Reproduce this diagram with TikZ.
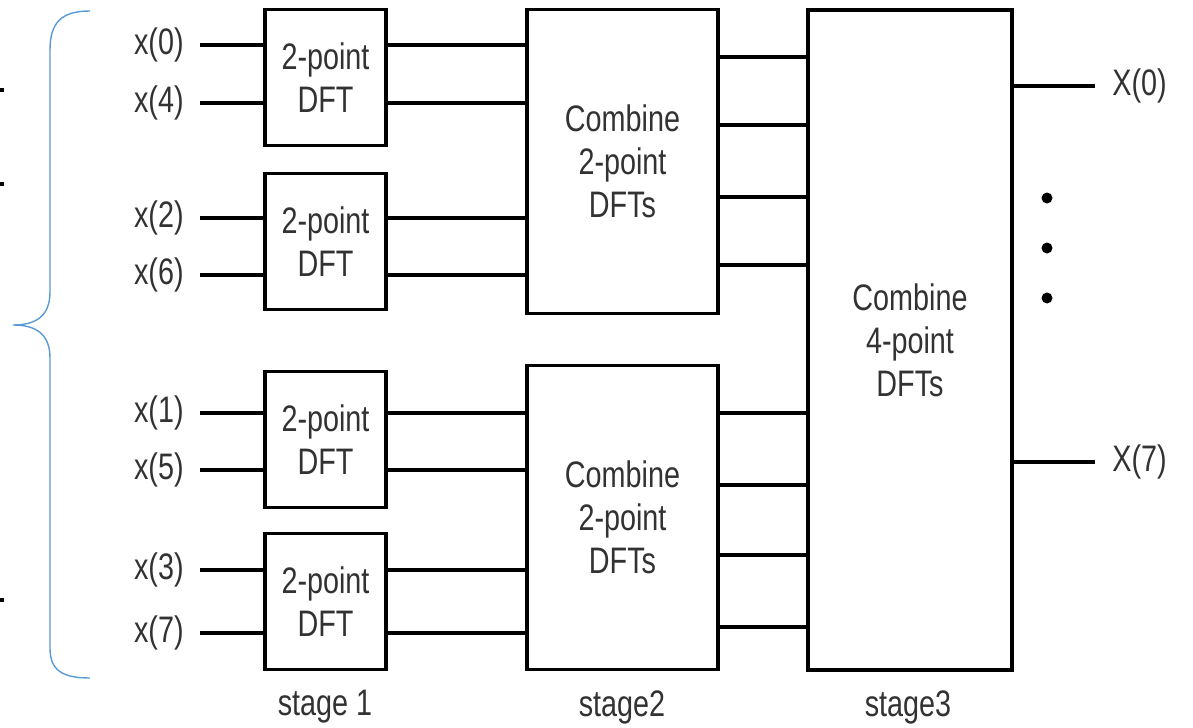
\documentclass[tikz,border=0pt]{standalone}
\usepackage{fontspec}
\setmainfont{Liberation Sans}[FakeStretch=0.78]
\usetikzlibrary{positioning}
\definecolor{bracecol}{RGB}{91,155,213}
\definecolor{txtcol}{RGB}{50,50,50}
\tikzset{
  wire/.style={line width=2pt},
  lbl/.style={text=txtcol, inner sep=0pt, font=\fontsize{21}{24.4}\selectfont},
  blk/.style={draw, line width=2pt, align=center, text=txtcol, inner sep=0pt,
    font=\fontsize{21}{24.4}\selectfont},
  dftbox/.style={blk, minimum width=2.42cm, minimum height=2.72cm},
  combbox/.style={blk, minimum width=3.82cm, minimum height=6.08cm},
  dotnode/.style={circle, fill=black, inner sep=0pt, minimum size=0.22cm}
}
\begin{document}
\begin{tikzpicture}[x=0.02cm, y=-0.02cm]
    \useasboundingbox (0,0) rectangle (1193,727);
    % Llave
    \draw[bracecol, line width=0.8pt] (90,11) .. controls (62,11) and (50,22) .. (50,50)
        -- (50,292) .. controls (50,316) and (36,325) .. (13,325)
        .. controls (36,325) and (50,334) .. (50,358)
        -- (50,648) .. controls (50,670) and (62,678) .. (90,678);
    \foreach \y in {90,184,600}
        \draw[line width=1.8pt] (0,\y) -- (4,\y);
    % Etapa 1
    \node[dftbox] (s1a) at (325.5,77.5) {2-point\\DFT};
    \node[dftbox] (s1b) at (325.5,241.5) {2-point\\DFT};
    \node[dftbox] (s1c) at (325.5,439.5) {2-point\\DFT};
    \node[dftbox] (s1d) at (325.5,601.5) {2-point\\DFT};
    % Etapa 2
    \node[combbox] (s2a) at (622.5,161.5) {Combine\\2-point\\DFTs};
    \node[combbox] (s2b) at (622.5,517.5) {Combine\\2-point\\DFTs};
    % Etapa 3
    \node[blk, minimum width=4.08cm, minimum height=13.2cm] (s3) at (910,340) {Combine\\4-point\\DFTs};
    % Entradas
    \foreach \n/\y/\b in {0/45/s1a, 4/103/s1a, 2/218/s1b, 6/275/s1b,
                          1/413/s1c, 5/470/s1c, 3/570/s1d, 7/633/s1d} {
        \node[lbl, anchor=east] (x\n) at (184,\y) {x(\n)};
        \coordinate (in\n) at (200,\y);
        \draw[wire] (in\n) -- (in\n -| \b.west);
    }
    % Etapa 1 a etapa 2
    \foreach \y/\a/\b in {45/s1a/s2a, 103/s1a/s2a, 218/s1b/s2a, 275/s1b/s2a,
                          413/s1c/s2b, 470/s1c/s2b, 570/s1d/s2b, 633/s1d/s2b} {
        \coordinate (h) at (0,\y);
        \draw[wire] (\a.east |- h) -- (\b.west |- h);
    }
    % Etapa 2 a etapa 3
    \foreach \y/\a in {57/s2a, 125/s2a, 197/s2a, 265/s2a,
                       413/s2b, 485/s2b, 555/s2b, 627/s2b} {
        \coordinate (h) at (0,\y);
        \draw[wire] (\a.east |- h) -- (s3.west |- h);
    }
    % Salidas
    \coordinate (o0) at (1095,86);
    \coordinate (o7) at (1095,462);
    \draw[wire] (o0 -| s3.east) -- (o0);
    \draw[wire] (o7 -| s3.east) -- (o7);
    \node[lbl, anchor=west] (X0) at (1112,86) {X(0)};
    \node[lbl, anchor=west] (X7) at (1112,462) {X(7)};
    \node[dotnode] (d1) at (1047,198) {};
    \node[dotnode] (d2) at (1047,248) {};
    \node[dotnode] (d3) at (1047,298) {};
    % Etiquetas
    \node[lbl] (st1) at (325,707) {stage 1};
    \node[lbl] (st2) at (622,707) {stage2};
    \node[lbl] (st3) at (908,707) {stage3};
\end{tikzpicture}
\end{document}
